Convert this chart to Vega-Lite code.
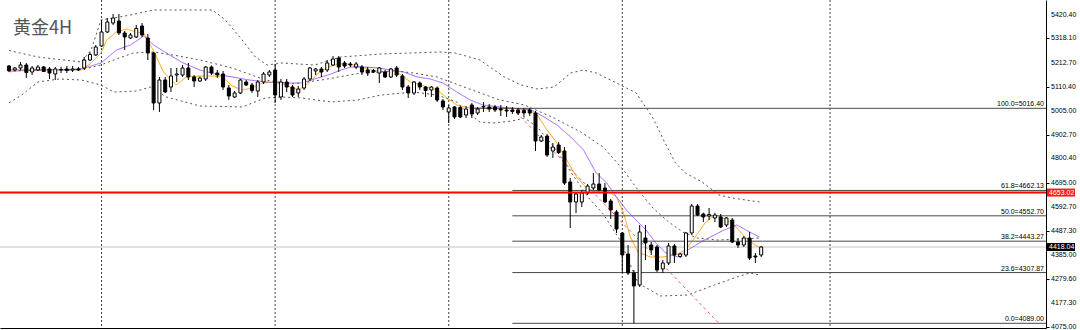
{
"$schema": "https://vega.github.io/schema/vega-lite/v6.json",
"width": 1046, "height": 328,
"autosize": "none",
"padding": {"left": 0, "top": 0, "right": 34, "bottom": 2},
"background": "white",
"view": {"stroke": null},
"title": {"text": "黄金4H", "anchor": "start", "frame": "group", "orient": "top", "offset": 0, "dy": 56, "dx": 13, "baseline": "bottom", "font": "Noto Sans CJK SC", "fontSize": 18, "fontWeight": "normal", "color": "#555555"},
"config": {
  "axisX": {"domain": true, "domainColor": "#000000", "domainWidth": 1, "ticks": false, "labels": false, "grid": false, "title": null},
  "axisY": {"grid": false, "title": null}
},
"datasets": {
"candles": [
{"i":0,"o":5198.9,"h":5203.2,"l":5173.1,"c":5178.6},
{"i":1,"o":5181.7,"h":5194.6,"l":5177.4,"c":5190.3},
{"i":2,"o":5190.3,"h":5216.2,"l":5181.7,"c":5203.2},
{"i":3,"o":5203.2,"h":5211.9,"l":5147.1,"c":5170.9},
{"i":4,"o":5173.1,"h":5198.9,"l":5160.1,"c":5190.3},
{"i":5,"o":5181.7,"h":5203.2,"l":5177.4,"c":5194.6},
{"i":6,"o":5194.6,"h":5198.9,"l":5173.1,"c":5175.2},
{"i":7,"o":5186.0,"h":5194.6,"l":5142.8,"c":5168.7},
{"i":8,"o":5164.4,"h":5194.6,"l":5138.5,"c":5186.0},
{"i":9,"o":5181.7,"h":5195.9,"l":5168.7,"c":5183.8},
{"i":10,"o":5186.0,"h":5198.9,"l":5168.7,"c":5179.5},
{"i":11,"o":5181.7,"h":5198.9,"l":5173.1,"c":5186.0},
{"i":12,"o":5186.0,"h":5194.6,"l":5177.4,"c":5181.7},
{"i":13,"o":5190.3,"h":5237.7,"l":5181.7,"c":5224.8},
{"i":14,"o":5224.8,"h":5259.3,"l":5220.5,"c":5248.5},
{"i":15,"o":5246.4,"h":5289.5,"l":5242.1,"c":5280.9},
{"i":16,"o":5285.2,"h":5397.3,"l":5280.9,"c":5345.6},
{"i":17,"o":5345.6,"h":5405.9,"l":5341.3,"c":5388.7},
{"i":18,"o":5384.4,"h":5423.2,"l":5375.8,"c":5405.9},
{"i":19,"o":5393.0,"h":5423.2,"l":5332.6,"c":5341.3},
{"i":20,"o":5341.3,"h":5349.9,"l":5267.9,"c":5324.0},
{"i":21,"o":5319.7,"h":5341.3,"l":5315.4,"c":5332.6},
{"i":22,"o":5324.0,"h":5375.8,"l":5319.7,"c":5360.7},
{"i":23,"o":5371.4,"h":5384.4,"l":5324.0,"c":5332.6},
{"i":24,"o":5319.7,"h":5336.9,"l":5224.8,"c":5255.0},
{"i":25,"o":5255.0,"h":5259.3,"l":5009.1,"c":5039.3},
{"i":26,"o":5039.3,"h":5151.5,"l":5000.5,"c":5138.5},
{"i":27,"o":5138.5,"h":5151.5,"l":5082.5,"c":5086.8},
{"i":28,"o":5108.3,"h":5190.3,"l":5086.8,"c":5155.8},
{"i":29,"o":5160.1,"h":5190.3,"l":5129.9,"c":5164.4},
{"i":30,"o":5160.1,"h":5203.2,"l":5151.5,"c":5190.3},
{"i":31,"o":5190.3,"h":5211.9,"l":5138.5,"c":5151.5},
{"i":32,"o":5151.5,"h":5160.1,"l":5108.3,"c":5134.2},
{"i":33,"o":5134.2,"h":5153.6,"l":5129.9,"c":5147.1},
{"i":34,"o":5142.8,"h":5198.9,"l":5134.2,"c":5194.6},
{"i":35,"o":5194.6,"h":5201.1,"l":5160.1,"c":5168.7},
{"i":36,"o":5168.7,"h":5181.7,"l":5147.1,"c":5160.1},
{"i":37,"o":5164.4,"h":5177.4,"l":5095.4,"c":5108.3},
{"i":38,"o":5104.0,"h":5117.0,"l":5052.3,"c":5069.5},
{"i":39,"o":5065.2,"h":5091.1,"l":5060.9,"c":5082.5},
{"i":40,"o":5082.5,"h":5142.8,"l":5078.1,"c":5138.5},
{"i":41,"o":5129.9,"h":5138.5,"l":5112.7,"c":5117.0},
{"i":42,"o":5117.0,"h":5125.6,"l":5082.5,"c":5093.3},
{"i":43,"o":5091.1,"h":5138.5,"l":5065.2,"c":5129.9},
{"i":44,"o":5129.9,"h":5173.1,"l":5121.3,"c":5164.4},
{"i":45,"o":5160.1,"h":5181.7,"l":5151.5,"c":5173.1},
{"i":46,"o":5181.7,"h":5207.6,"l":5039.3,"c":5073.8},
{"i":47,"o":5065.2,"h":5142.8,"l":5052.3,"c":5129.9},
{"i":48,"o":5129.9,"h":5142.8,"l":5086.8,"c":5108.3},
{"i":49,"o":5108.3,"h":5117.0,"l":5065.2,"c":5073.8},
{"i":50,"o":5082.5,"h":5112.7,"l":5065.2,"c":5099.7},
{"i":51,"o":5104.0,"h":5151.5,"l":5095.4,"c":5142.8},
{"i":52,"o":5142.8,"h":5194.6,"l":5134.2,"c":5190.3},
{"i":53,"o":5177.4,"h":5190.3,"l":5160.1,"c":5186.0},
{"i":54,"o":5186.0,"h":5194.6,"l":5151.5,"c":5173.1},
{"i":55,"o":5181.7,"h":5224.8,"l":5173.1,"c":5211.9},
{"i":56,"o":5203.2,"h":5242.1,"l":5198.9,"c":5229.1},
{"i":57,"o":5233.4,"h":5242.1,"l":5173.1,"c":5194.6},
{"i":58,"o":5211.9,"h":5220.5,"l":5190.3,"c":5198.9},
{"i":59,"o":5207.6,"h":5216.2,"l":5194.6,"c":5203.2},
{"i":60,"o":5194.6,"h":5216.2,"l":5186.0,"c":5207.6},
{"i":61,"o":5194.6,"h":5203.2,"l":5160.1,"c":5173.1},
{"i":62,"o":5181.7,"h":5194.6,"l":5155.8,"c":5168.7},
{"i":63,"o":5179.5,"h":5186.0,"l":5168.7,"c":5173.1},
{"i":64,"o":5168.7,"h":5194.6,"l":5125.6,"c":5190.3},
{"i":65,"o":5173.1,"h":5181.7,"l":5147.1,"c":5151.5},
{"i":66,"o":5151.5,"h":5190.3,"l":5147.1,"c":5186.0},
{"i":67,"o":5190.3,"h":5198.9,"l":5151.5,"c":5160.1},
{"i":68,"o":5155.8,"h":5164.4,"l":5095.4,"c":5108.3},
{"i":69,"o":5108.3,"h":5117.0,"l":5060.9,"c":5082.5},
{"i":70,"o":5082.5,"h":5134.2,"l":5073.8,"c":5129.9},
{"i":71,"o":5125.6,"h":5132.0,"l":5095.4,"c":5108.3},
{"i":72,"o":5108.3,"h":5112.7,"l":5065.2,"c":5093.3},
{"i":73,"o":5095.4,"h":5112.7,"l":5065.2,"c":5108.3},
{"i":74,"o":5104.0,"h":5110.5,"l":5043.6,"c":5052.3},
{"i":75,"o":5048.0,"h":5056.6,"l":5009.1,"c":5022.1},
{"i":76,"o":5000.5,"h":5030.7,"l":4953.0,"c":5017.7},
{"i":77,"o":5022.1,"h":5026.4,"l":4970.3,"c":4978.9},
{"i":78,"o":5019.9,"h":5026.4,"l":4974.6,"c":4978.9},
{"i":79,"o":4987.6,"h":5026.4,"l":4974.6,"c":5013.4},
{"i":80,"o":5030.7,"h":5039.3,"l":4974.6,"c":4991.9},
{"i":81,"o":4996.2,"h":5022.1,"l":4987.6,"c":5013.4},
{"i":82,"o":5022.1,"h":5043.6,"l":5000.5,"c":5024.2},
{"i":83,"o":5022.1,"h":5035.0,"l":5000.5,"c":5013.4},
{"i":84,"o":5022.1,"h":5030.7,"l":5000.5,"c":5009.1},
{"i":85,"o":5013.4,"h":5030.7,"l":4983.3,"c":5009.1},
{"i":86,"o":5009.1,"h":5026.4,"l":4978.9,"c":5004.8},
{"i":87,"o":5009.1,"h":5022.1,"l":4991.9,"c":5002.6},
{"i":88,"o":5009.1,"h":5017.7,"l":4987.6,"c":4996.2},
{"i":89,"o":5007.0,"h":5017.7,"l":4978.9,"c":4996.2},
{"i":90,"o":5009.1,"h":5017.7,"l":4983.3,"c":4996.2},
{"i":91,"o":4996.2,"h":5004.8,"l":4832.3,"c":4875.4},
{"i":92,"o":4875.4,"h":4901.3,"l":4871.1,"c":4892.6},
{"i":93,"o":4896.9,"h":4905.6,"l":4806.4,"c":4815.0},
{"i":94,"o":4832.3,"h":4866.8,"l":4802.1,"c":4849.5},
{"i":95,"o":4858.2,"h":4871.1,"l":4819.3,"c":4825.8},
{"i":96,"o":4832.3,"h":4849.5,"l":4685.6,"c":4694.2},
{"i":97,"o":4698.5,"h":4715.8,"l":4500.1,"c":4612.3},
{"i":98,"o":4612.3,"h":4655.4,"l":4564.8,"c":4646.8},
{"i":99,"o":4612.3,"h":4664.0,"l":4590.7,"c":4651.1},
{"i":100,"o":4651.1,"h":4689.9,"l":4642.5,"c":4681.3},
{"i":101,"o":4672.7,"h":4737.4,"l":4664.0,"c":4689.9},
{"i":102,"o":4689.9,"h":4737.4,"l":4659.7,"c":4664.0},
{"i":103,"o":4672.7,"h":4694.2,"l":4608.0,"c":4612.3},
{"i":104,"o":4616.6,"h":4625.2,"l":4539.0,"c":4577.8},
{"i":105,"o":4569.1,"h":4577.8,"l":4478.5,"c":4495.8},
{"i":106,"o":4478.5,"h":4482.9,"l":4306.0,"c":4383.7},
{"i":107,"o":4388.0,"h":4426.8,"l":4297.4,"c":4306.0},
{"i":108,"o":4306.0,"h":4319.0,"l":4089.0,"c":4249.9},
{"i":109,"o":4254.2,"h":4513.1,"l":4245.6,"c":4482.9},
{"i":110,"o":4457.0,"h":4513.1,"l":4362.1,"c":4435.4},
{"i":111,"o":4426.8,"h":4439.7,"l":4383.7,"c":4405.2},
{"i":112,"o":4418.2,"h":4426.8,"l":4310.3,"c":4319.0},
{"i":113,"o":4323.3,"h":4362.1,"l":4306.0,"c":4349.2},
{"i":114,"o":4349.2,"h":4435.4,"l":4340.6,"c":4422.5},
{"i":115,"o":4422.5,"h":4431.1,"l":4349.2,"c":4383.7},
{"i":116,"o":4377.2,"h":4392.3,"l":4370.7,"c":4388.0},
{"i":117,"o":4383.7,"h":4482.9,"l":4375.0,"c":4478.5},
{"i":118,"o":4478.5,"h":4603.6,"l":4469.9,"c":4595.0},
{"i":119,"o":4595.0,"h":4603.6,"l":4551.9,"c":4556.2},
{"i":120,"o":4560.5,"h":4566.1,"l":4526.0,"c":4547.6},
{"i":121,"o":4551.9,"h":4586.4,"l":4534.6,"c":4558.4},
{"i":122,"o":4543.3,"h":4566.1,"l":4526.0,"c":4556.2},
{"i":123,"o":4547.6,"h":4560.5,"l":4500.1,"c":4504.4},
{"i":124,"o":4513.1,"h":4547.6,"l":4504.4,"c":4543.3},
{"i":125,"o":4534.6,"h":4543.3,"l":4435.4,"c":4439.7},
{"i":126,"o":4439.7,"h":4457.0,"l":4413.9,"c":4426.8},
{"i":127,"o":4426.8,"h":4465.6,"l":4418.2,"c":4457.0},
{"i":128,"o":4457.0,"h":4482.9,"l":4362.1,"c":4370.7},
{"i":129,"o":4379.4,"h":4392.3,"l":4349.2,"c":4375.0},
{"i":130,"o":4383.7,"h":4422.5,"l":4375.0,"c":4418.04}
],
"lines": [
{"s":"fast","i":0,"p":5173.1},{"s":"fast","i":5.0,"p":5186.0},{"s":"fast","i":10.8,"p":5181.7},{"s":"fast","i":12.5,"p":5181.7},{"s":"fast","i":14.2,"p":5211.9},{"s":"fast","i":15.9,"p":5255.0},{"s":"fast","i":16.9,"p":5311.1},{"s":"fast","i":18.6,"p":5345.6},{"s":"fast","i":20.3,"p":5358.5},{"s":"fast","i":22.1,"p":5345.6},{"s":"fast","i":23.3,"p":5341.3},{"s":"fast","i":25.0,"p":5263.6},{"s":"fast","i":26.7,"p":5173.1},{"s":"fast","i":28.9,"p":5117.0},{"s":"fast","i":30.6,"p":5151.5},{"s":"fast","i":33.0,"p":5155.8},{"s":"fast","i":35.2,"p":5155.8},{"s":"fast","i":36.9,"p":5151.5},{"s":"fast","i":38.6,"p":5112.7},{"s":"fast","i":40.3,"p":5095.4},{"s":"fast","i":42.1,"p":5104.0},{"s":"fast","i":43.8,"p":5125.6},{"s":"fast","i":46.0,"p":5129.9},{"s":"fast","i":47.7,"p":5117.0},{"s":"fast","i":50.1,"p":5095.4},{"s":"fast","i":51.8,"p":5125.6},{"s":"fast","i":53.5,"p":5168.7},{"s":"fast","i":55.2,"p":5194.6},{"s":"fast","i":56.9,"p":5207.6},{"s":"fast","i":58.6,"p":5207.6},{"s":"fast","i":60.3,"p":5198.9},{"s":"fast","i":62.6,"p":5181.7},{"s":"fast","i":64.8,"p":5173.1},{"s":"fast","i":66.8,"p":5177.4},{"s":"fast","i":69.4,"p":5129.9},{"s":"fast","i":72.3,"p":5108.3},{"s":"fast","i":74.0,"p":5095.4},{"s":"fast","i":75.7,"p":5060.9},{"s":"fast","i":77.4,"p":5030.7},{"s":"fast","i":79.7,"p":5017.7},{"s":"fast","i":84.3,"p":5017.7},{"s":"fast","i":89.6,"p":5013.4},{"s":"fast","i":91.3,"p":4987.6},{"s":"fast","i":93.0,"p":4922.8},{"s":"fast","i":94.7,"p":4866.8},{"s":"fast","i":96.4,"p":4793.4},{"s":"fast","i":98.1,"p":4720.1},{"s":"fast","i":99.8,"p":4672.7},{"s":"fast","i":101.5,"p":4655.4},{"s":"fast","i":103.3,"p":4664.0},{"s":"fast","i":105.0,"p":4633.9},{"s":"fast","i":106.2,"p":4564.8},{"s":"fast","i":107.4,"p":4461.3},{"s":"fast","i":108.7,"p":4396.6},{"s":"fast","i":110.8,"p":4375.0},{"s":"fast","i":113.0,"p":4375.0},{"s":"fast","i":115.2,"p":4383.7},{"s":"fast","i":116.9,"p":4405.2},{"s":"fast","i":118.6,"p":4461.3},{"s":"fast","i":120.3,"p":4521.7},{"s":"fast","i":121.5,"p":4547.6},{"s":"fast","i":122.7,"p":4551.9},{"s":"fast","i":125.0,"p":4521.7},{"s":"fast","i":127.2,"p":4461.3},{"s":"fast","i":128.9,"p":4426.8},{"s":"fast","i":130.0,"p":4413.9},
{"s":"slow","i":0,"p":5181.7},{"s":"slow","i":10.8,"p":5181.7},{"s":"slow","i":13.0,"p":5190.3},{"s":"slow","i":15.9,"p":5211.9},{"s":"slow","i":18.6,"p":5267.9},{"s":"slow","i":21.0,"p":5289.5},{"s":"slow","i":23.3,"p":5328.3},{"s":"slow","i":25.0,"p":5289.5},{"s":"slow","i":27.2,"p":5255.0},{"s":"slow","i":30.1,"p":5211.9},{"s":"slow","i":33.0,"p":5181.7},{"s":"slow","i":36.4,"p":5160.1},{"s":"slow","i":38.6,"p":5151.5},{"s":"slow","i":41.5,"p":5138.5},{"s":"slow","i":44.6,"p":5129.9},{"s":"slow","i":47.2,"p":5125.6},{"s":"slow","i":50.6,"p":5125.6},{"s":"slow","i":52.8,"p":5142.8},{"s":"slow","i":55.2,"p":5160.1},{"s":"slow","i":57.4,"p":5181.7},{"s":"slow","i":59.1,"p":5194.6},{"s":"slow","i":61.4,"p":5194.6},{"s":"slow","i":63.8,"p":5190.3},{"s":"slow","i":66.0,"p":5181.7},{"s":"slow","i":68.2,"p":5173.1},{"s":"slow","i":70.6,"p":5151.5},{"s":"slow","i":72.8,"p":5142.8},{"s":"slow","i":75.0,"p":5125.6},{"s":"slow","i":77.4,"p":5086.8},{"s":"slow","i":79.7,"p":5052.3},{"s":"slow","i":81.9,"p":5030.7},{"s":"slow","i":84.8,"p":5022.1},{"s":"slow","i":90.3,"p":5009.1},{"s":"slow","i":92.5,"p":4978.9},{"s":"slow","i":94.7,"p":4944.4},{"s":"slow","i":97.1,"p":4892.6},{"s":"slow","i":99.3,"p":4836.6},{"s":"slow","i":101.5,"p":4737.4},{"s":"slow","i":103.3,"p":4694.2},{"s":"slow","i":105.0,"p":4633.9},{"s":"slow","i":106.7,"p":4577.8},{"s":"slow","i":108.7,"p":4526.0},{"s":"slow","i":110.1,"p":4491.5},{"s":"slow","i":111.8,"p":4435.4},{"s":"slow","i":113.5,"p":4392.3},{"s":"slow","i":115.6,"p":4375.0},{"s":"slow","i":117.3,"p":4405.2},{"s":"slow","i":120.2,"p":4448.4},{"s":"slow","i":123.6,"p":4491.5},{"s":"slow","i":125.8,"p":4513.1},{"s":"slow","i":128.0,"p":4482.9},{"s":"slow","i":129.7,"p":4461.3},
{"s":"bbU","i":0,"p":5266.0},{"s":"bbU","i":5.0,"p":5237.7},{"s":"bbU","i":12.5,"p":5216.2},{"s":"bbU","i":14.2,"p":5267.9},{"s":"bbU","i":15.9,"p":5397.3},{"s":"bbU","i":18.1,"p":5405.9},{"s":"bbU","i":21.0,"p":5418.9},{"s":"bbU","i":25.0,"p":5440.5},{"s":"bbU","i":35.2,"p":5440.5},{"s":"bbU","i":37.4,"p":5397.3},{"s":"bbU","i":40.3,"p":5311.1},{"s":"bbU","i":42.6,"p":5237.7},{"s":"bbU","i":44.6,"p":5203.2},{"s":"bbU","i":47.2,"p":5211.9},{"s":"bbU","i":52.8,"p":5203.2},{"s":"bbU","i":57.4,"p":5237.7},{"s":"bbU","i":64.3,"p":5250.7},{"s":"bbU","i":74.5,"p":5259.3},{"s":"bbU","i":77.1,"p":5255.0},{"s":"bbU","i":81.4,"p":5224.8},{"s":"bbU","i":85.6,"p":5151.5},{"s":"bbU","i":88.5,"p":5117.0},{"s":"bbU","i":91.3,"p":5099.7},{"s":"bbU","i":94.2,"p":5108.3},{"s":"bbU","i":97.1,"p":5168.7},{"s":"bbU","i":99.3,"p":5181.7},{"s":"bbU","i":101.5,"p":5168.7},{"s":"bbU","i":105.0,"p":5125.6},{"s":"bbU","i":108.4,"p":5082.5},{"s":"bbU","i":111.3,"p":4974.6},{"s":"bbU","i":113.3,"p":4871.1},{"s":"bbU","i":115.2,"p":4780.5},{"s":"bbU","i":116.9,"p":4737.4},{"s":"bbU","i":119.8,"p":4698.5},{"s":"bbU","i":122.7,"p":4642.5},{"s":"bbU","i":125.0,"p":4629.5},{"s":"bbU","i":129.7,"p":4612.3},
{"s":"bbM","i":0,"p":5177.4},{"s":"bbM","i":6.2,"p":5181.7},{"s":"bbM","i":13.0,"p":5186.0},{"s":"bbM","i":15.9,"p":5203.2},{"s":"bbM","i":18.1,"p":5224.8},{"s":"bbM","i":21.5,"p":5255.0},{"s":"bbM","i":25.0,"p":5259.3},{"s":"bbM","i":28.4,"p":5246.4},{"s":"bbM","i":33.0,"p":5224.8},{"s":"bbM","i":38.6,"p":5190.3},{"s":"bbM","i":44.3,"p":5138.5},{"s":"bbM","i":48.9,"p":5121.3},{"s":"bbM","i":54.0,"p":5138.5},{"s":"bbM","i":60.9,"p":5168.7},{"s":"bbM","i":66.8,"p":5177.4},{"s":"bbM","i":69.9,"p":5168.7},{"s":"bbM","i":74.0,"p":5151.5},{"s":"bbM","i":79.1,"p":5104.0},{"s":"bbM","i":84.8,"p":5052.3},{"s":"bbM","i":89.1,"p":5030.7},{"s":"bbM","i":94.2,"p":4974.6},{"s":"bbM","i":98.8,"p":4914.2},{"s":"bbM","i":102.7,"p":4849.5},{"s":"bbM","i":106.2,"p":4750.3},{"s":"bbM","i":108.7,"p":4664.0},{"s":"bbM","i":111.3,"p":4586.4},{"s":"bbM","i":113.8,"p":4530.3},{"s":"bbM","i":116.4,"p":4482.9},{"s":"bbM","i":119.0,"p":4457.0},{"s":"bbM","i":122.4,"p":4448.4},{"s":"bbM","i":126.7,"p":4452.7},{"s":"bbM","i":129.7,"p":4457.0},
{"s":"bbL","i":0,"p":5040.0},{"s":"bbL","i":2.2,"p":5073.8},{"s":"bbL","i":5.0,"p":5129.9},{"s":"bbL","i":8.7,"p":5142.8},{"s":"bbL","i":12.5,"p":5138.5},{"s":"bbL","i":15.9,"p":5117.0},{"s":"bbL","i":18.1,"p":5086.8},{"s":"bbL","i":22.1,"p":5091.1},{"s":"bbL","i":24.4,"p":5108.3},{"s":"bbL","i":27.2,"p":5065.2},{"s":"bbL","i":33.0,"p":5026.4},{"s":"bbL","i":40.3,"p":5022.1},{"s":"bbL","i":44.3,"p":5060.9},{"s":"bbL","i":47.2,"p":5065.2},{"s":"bbL","i":50.6,"p":5060.9},{"s":"bbL","i":55.7,"p":5043.6},{"s":"bbL","i":60.3,"p":5052.3},{"s":"bbL","i":64.3,"p":5073.8},{"s":"bbL","i":69.9,"p":5086.8},{"s":"bbL","i":74.0,"p":5073.8},{"s":"bbL","i":77.4,"p":5043.6},{"s":"bbL","i":79.1,"p":5000.5},{"s":"bbL","i":81.4,"p":4957.4},{"s":"bbL","i":83.6,"p":4953.0},{"s":"bbL","i":87.0,"p":4961.7},{"s":"bbL","i":89.1,"p":4974.6},{"s":"bbL","i":91.3,"p":4935.8},{"s":"bbL","i":94.2,"p":4849.5},{"s":"bbL","i":97.1,"p":4741.7},{"s":"bbL","i":100.2,"p":4629.5},{"s":"bbL","i":102.7,"p":4560.5},{"s":"bbL","i":105.6,"p":4448.4},{"s":"bbL","i":108.7,"p":4262.9},{"s":"bbL","i":112.6,"p":4206.8},{"s":"bbL","i":117.3,"p":4211.1},{"s":"bbL","i":121.9,"p":4254.2},{"s":"bbL","i":125.8,"p":4288.8},{"s":"bbL","i":128.0,"p":4306.0},{"s":"bbL","i":129.7,"p":4297.4}
],
"fib": [
{"i":80,"p":5016.40,"label":"100.0=5016.40"},
{"i":87,"p":4662.13,"label":"61.8=4662.13"},
{"i":87,"p":4552.70,"label":"50.0=4552.70"},
{"i":87,"p":4443.27,"label":"38.2=4443.27"},
{"i":87,"p":4307.87,"label":"23.6=4307.87"},
{"i":87,"p":4089.00,"label":"0.0=4089.00"}
],
"diag": [{"i":87,"p":5016.40},{"i":122.7,"p":4089.00}],
"seps": [{"i":16},{"i":46},{"i":76},{"i":106},{"i":141.9}],
"bid": [{"p":4418.04}],
"level": [{"p":4653.02}],
"ticks": [{"p":5420.40,"t":"5420.40"},{"p":5318.10,"t":"5318.10"},{"p":5212.70,"t":"5212.70"},{"p":5110.40,"t":"5110.40"},{"p":5005.00,"t":"5005.00"},{"p":4902.70,"t":"4902.70"},{"p":4800.40,"t":"4800.40"},{"p":4695.00,"t":"4695.00"},{"p":4592.70,"t":"4592.70"},{"p":4487.30,"t":"4487.30"},{"p":4385.00,"t":"4385.00"},{"p":4279.60,"t":"4279.60"},{"p":4177.30,"t":"4177.30"},{"p":4075.00,"t":"4075.00"}],
"tags": [{"p":4653.02,"label":"4653.02","bg":"#ff1a1a"},{"p":4418.04,"label":"4418.04","bg":"black"}]
},
"layer": [
{"data": {"name": "seps"}, "mark": {"type": "rule", "color": "#404040", "strokeWidth": 1, "strokeDash": [2, 2]},
 "encoding": {"x": {"field": "i", "type": "quantitative", "title": null, "scale": {"domain": [-0.685, 178.36], "nice": false, "zero": false}, "axis": {"orient": "bottom"}}}},
{"data": {"name": "bid"}, "mark": {"type": "rule", "color": "#c4c4c4", "strokeWidth": 1},
 "encoding": {"y": {"field": "p", "type": "quantitative", "title": null, "scale": {"domain": [4068.8, 5483.6], "nice": false, "zero": false}}}},
{"data": {"name": "lines"}, "mark": {"type": "line", "strokeWidth": 1, "interpolate": "linear"},
 "encoding": {
   "x": {"field": "i", "type": "quantitative", "title": null},
   "y": {"field": "p", "type": "quantitative", "title": null},
   "detail": {"field": "s"},
   "color": {"field": "s", "type": "nominal", "legend": null, "scale": {"domain": ["bbU", "bbM", "bbL", "slow", "fast"], "range": ["#555555", "#555555", "#555555", "#a060ff", "#ffa000"]}},
   "strokeDash": {"field": "s", "type": "nominal", "legend": null, "scale": {"domain": ["bbU", "bbM", "bbL", "slow", "fast"], "range": [[2, 3], [2, 3], [2, 3], [1, 0], [1, 0]]}}
 }},
{"data": {"name": "diag"}, "mark": {"type": "line", "color": "#ff5a5a", "strokeWidth": 1, "strokeDash": [3, 3]},
 "encoding": {"x": {"field": "i", "type": "quantitative", "title": null}, "y": {"field": "p", "type": "quantitative", "title": null}}},
{"data": {"name": "fib"}, "mark": {"type": "rule", "color": "#4a4a4a", "strokeWidth": 1},
 "encoding": {"x": {"field": "i", "type": "quantitative", "title": null}, "x2": {"value": "width"}, "y": {"field": "p", "type": "quantitative", "title": null}}},
{"data": {"name": "candles"}, "mark": {"type": "rule", "color": "#000000", "strokeWidth": 1},
 "encoding": {"x": {"field": "i", "type": "quantitative", "title": null}, "y": {"field": "l", "type": "quantitative", "title": null,
   "axis": {"orient": "right", "values": [5420.40, 5318.10, 5212.70, 5110.40, 5005.00, 4902.70, 4800.40, 4695.00, 4592.70, 4487.30, 4385.00, 4279.60, 4177.30, 4075.00], "labels": false, "tickColor": "#000000", "tickSize": 3, "domainColor": "#000000"}},
   "y2": {"field": "h"}}},
{"data": {"name": "candles"}, "mark": {"type": "bar", "width": 3, "stroke": "#000000", "strokeWidth": 1},
 "encoding": {"x": {"field": "i", "type": "quantitative", "title": null}, "y": {"field": "o", "type": "quantitative", "title": null}, "y2": {"field": "c"},
   "color": {"condition": {"test": "datum.c > datum.o", "value": "#ffffff"}, "value": "#000000"}}},
{"data": {"name": "level"}, "mark": {"type": "rule", "color": "#ff0000", "strokeWidth": 2},
 "encoding": {"y": {"field": "p", "type": "quantitative", "title": null}}},
{"data": {"name": "fib"}, "mark": {"type": "text", "align": "right", "baseline": "alphabetic", "dx": -2, "dy": -2, "font": "Liberation Sans", "fontSize": 7, "color": "#000000"},
 "encoding": {"x": {"value": "width"}, "y": {"field": "p", "type": "quantitative", "title": null}, "text": {"field": "label"}}},
{"data": {"name": "ticks"}, "mark": {"type": "text", "align": "left", "baseline": "middle", "dx": 5, "font": "Liberation Sans", "fontSize": 7, "color": "#000000"},
 "encoding": {"x": {"value": "width"}, "y": {"field": "p", "type": "quantitative", "title": null}, "text": {"field": "t"}}},
{"data": {"name": "tags"}, "mark": {"type": "rect", "xOffset": 1, "x2Offset": 29, "yOffset": -4, "y2Offset": 4},
 "encoding": {"x": {"value": "width"}, "x2": {"value": "width"}, "y": {"field": "p", "type": "quantitative", "title": null}, "y2": {"field": "p"},
   "fill": {"field": "bg", "type": "nominal", "scale": null, "legend": null}}},
{"data": {"name": "tags"}, "mark": {"type": "text", "align": "left", "baseline": "middle", "dx": 3, "font": "Liberation Sans", "fontSize": 7, "color": "#ffffff"},
 "encoding": {"x": {"value": "width"}, "y": {"field": "p", "type": "quantitative", "title": null}, "text": {"field": "label"}}}
]
}
